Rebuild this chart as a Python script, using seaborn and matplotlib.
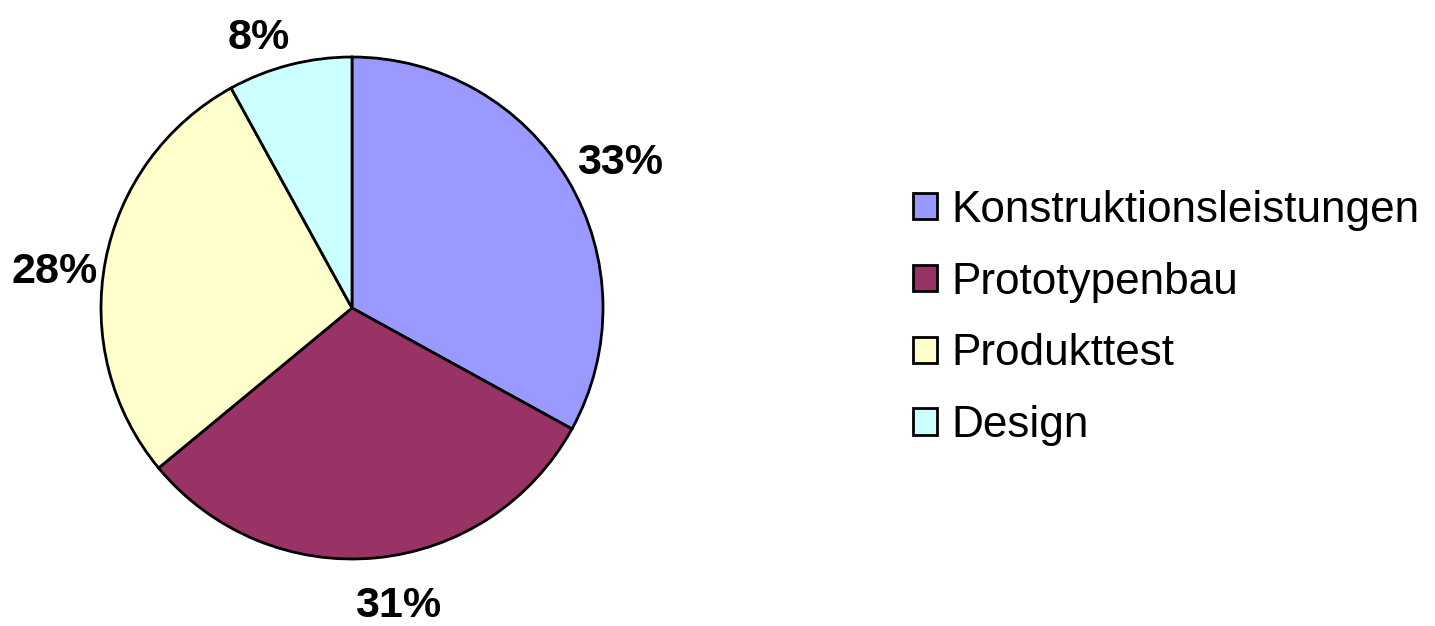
import matplotlib
matplotlib.use("Agg")
import numpy as np
import matplotlib.pyplot as plt
import seaborn as sns

# chart data
categories = ["Konstruktionsleistungen", "Prototypenbau", "Produkttest", "Design"]
shares = [33, 31, 28, 8]
colors = ["#9999FF", "#993366", "#FFFFCC", "#CCFFFF"]

# label nudges (points), to mimic the spreadsheet's label placement
label_nudge = [(6, -6), (13, 1), (-1, -15), (-13, -16)]

sns.set_theme(style="white")
plt.rcParams['font.family'] = ['Liberation Sans', 'DejaVu Sans']

fig = plt.figure(figsize=(14.35, 6.26), dpi=100)
ax = fig.add_axes([101 / 1435, 67 / 626, 502 / 1435, 502 / 626])

wedges, _ = ax.pie(
    shares,
    colors=sns.color_palette(colors),
    startangle=90,
    counterclock=False,
    wedgeprops=dict(edgecolor="black", linewidth=2),
)
ax.set_xlim(-1, 1)
ax.set_ylim(-1, 1)
ax.set_aspect("equal")

total = sum(shares)
for w, val, nudge in zip(wedges, shares, label_nudge):
    mid = np.deg2rad((w.theta1 + w.theta2) / 2)
    ax.annotate(
        f"{val / total * 100:.0f}%",
        xy=(1.2 * np.cos(mid), 1.2 * np.sin(mid)),
        xytext=nudge, textcoords="offset points",
        ha="center", va="center",
        fontsize=31, fontweight="bold", color="black",
        annotation_clip=False,
    )

leg = fig.legend(
    wedges, categories,
    loc="center left",
    bbox_to_anchor=(913 / 1435, 1 - 318 / 626),
    frameon=False,
    fontsize=31.8,
    handlelength=0.55,
    handleheight=0.55,
    handletextpad=0.33,
    labelspacing=0.7,
    borderpad=0,
    borderaxespad=0,
)
for t in leg.get_texts():
    t.set_color("black")
for h in leg.legend_handles:
    h.set_linewidth(2)
    h.set_edgecolor("black")

fig.savefig("out.png", dpi=100)
